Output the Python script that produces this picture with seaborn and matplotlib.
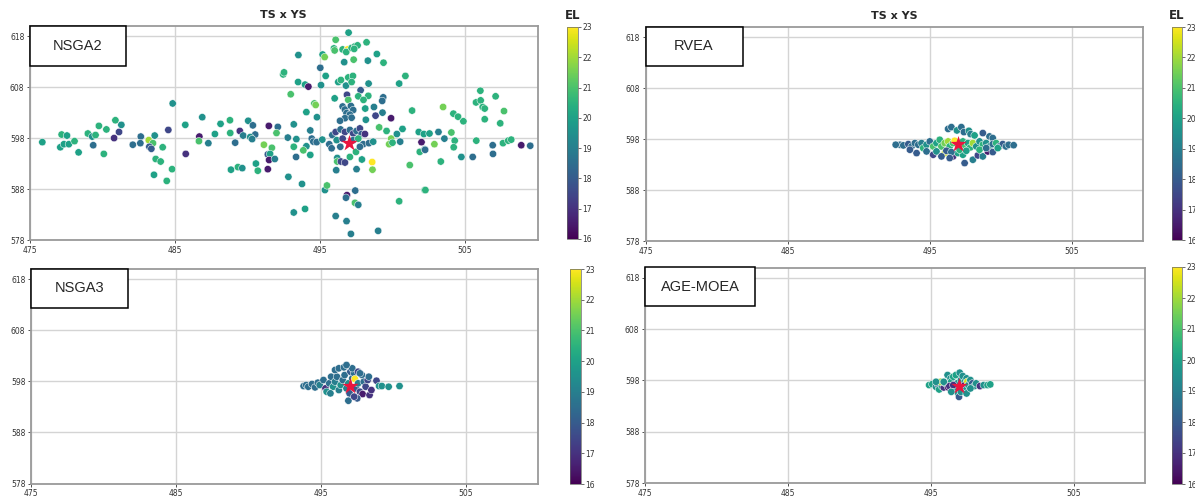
import matplotlib
matplotlib.use("Agg")
import matplotlib.pyplot as plt
import matplotlib as mpl
from matplotlib.patches import Rectangle
import numpy as np
import pandas as pd
import seaborn as sns

# ---------------- data ----------------
x_ticks = [475, 485, 495, 505]
y_ticks = [578, 588, 598, 608, 618]
el_ticks = [16, 17, 18, 19, 20, 21, 22, 23]
star_ts = [497.0]
star_ys = [597.0]

nsga2_ts = [475.85, 477.18, 477.55, 477.09, 477.34, 477.68, 478.07, 478.35, 478.99, 479.29,
            479.52, 479.75, 480.27, 479.36, 480.09, 480.89, 481.30, 481.14, 480.80, 482.09,
            482.64, 482.61, 483.19, 483.48, 483.23, 483.37, 483.60, 483.67, 484.01, 483.55,
            484.15,
            484.80, 484.43, 484.84, 484.54, 485.71, 485.74, 486.88, 486.68, 486.65, 487.30,
            487.75, 488.14, 488.79, 488.81, 489.47, 489.15, 489.70, 490.05, 490.37, 490.53,
            490.19, 490.32, 488.86, 489.34, 489.64, 490.58, 490.71, 491.47, 492.09, 492.00,
            491.13, 491.68, 491.40, 491.56, 491.49, 491.88, 491.40, 492.46, 492.52, 492.98,
            492.78, 493.19, 493.19, 492.82, 493.19,
            496.97, 496.08, 495.96, 496.01, 496.56, 496.90, 496.81, 497.18, 497.41, 497.59,
            497.36, 498.21, 493.51, 495.18, 495.32, 497.32, 496.67, 498.30, 498.92, 499.38,
            495.02, 495.39, 493.49, 493.97, 494.20, 495.07, 496.26, 496.44, 496.95, 497.27,
            496.79, 497.18, 498.35, 497.80, 496.01, 496.86, 497.64, 498.33, 496.95, 498.00,
            499.36, 499.29, 500.46, 500.89, 501.35, 494.61, 494.70, 494.06, 494.79, 494.33,
            496.56, 496.72, 496.83, 497.13, 497.29, 497.06, 496.72, 497.18, 496.38, 498.12,
            498.16, 498.83, 498.72, 499.90, 499.31, 499.08, 499.59, 499.91, 500.30, 500.69,
            500.53, 499.77, 500.00, 501.81, 502.16, 502.00, 501.88, 502.22, 501.19, 502.22,
            500.46, 498.60, 498.62, 497.52, 497.89, 497.06, 497.48, 496.19, 496.19, 496.44,
            496.72, 496.12, 494.43, 494.54, 494.77, 495.16, 495.64, 495.85, 496.08, 496.42,
            496.72, 497.06, 497.29, 497.52, 497.75, 497.87, 498.10, 496.15, 496.56, 497.29,
            497.64, 497.98, 498.37, 498.67, 497.75, 496.40, 495.80, 494.06, 493.85, 494.33,
            493.35, 493.76, 495.34, 495.48, 493.97, 496.86, 496.79, 497.43, 497.41, 497.64,
            496.08, 496.83, 497.13, 499.01, 493.37,
            506.06, 507.11, 505.76, 506.08, 506.22, 506.36, 507.69, 506.36, 507.43, 503.49,
            504.20, 504.52, 504.89, 504.06, 503.17, 502.55, 503.58, 504.29, 504.22, 502.89,
            505.78, 506.91, 506.93, 507.62, 507.98, 508.19, 508.88, 509.50, 504.75, 505.53,
            503.33, 502.27, 502.25]
nsga2_ys = [597.2, 598.7, 598.5, 596.2, 596.8, 596.8, 597.4, 595.2, 598.9, 598.3,
            598.6, 600.4, 599.7, 596.6, 594.9, 601.5, 600.6, 599.2, 598.0, 596.7,
            598.3, 597.0, 597.6, 597.0, 596.3, 595.9, 598.5, 593.9, 593.4, 590.8,
            596.2,
            591.9, 589.6, 604.8, 599.6, 600.6, 594.9, 602.1, 598.3, 597.4, 597.0,
            598.8, 600.8, 601.5, 599.0, 599.4, 597.1, 598.5, 601.4, 600.5, 598.7,
            598.2, 597.8, 591.8, 592.3, 592.1, 593.0, 591.6, 600.4, 600.2, 599.0,
            596.7, 596.1, 594.8, 594.9, 593.7, 593.9, 591.9, 610.5, 610.9, 606.6,
            598.1, 600.7, 596.3, 590.4, 583.4,
            618.7, 617.3, 615.6, 615.2, 615.4, 615.4, 614.9, 615.7, 616.0, 616.2,
            615.5, 616.8, 614.3, 614.4, 613.9, 613.4, 612.9, 613.2, 614.5, 612.8,
            611.8, 610.2, 609.0, 608.5, 608.1, 608.4, 609.0, 609.4, 609.9, 610.2,
            608.3, 609.0, 608.7, 607.4, 605.8, 606.5, 606.2, 606.3, 605.5, 605.5,
            606.0, 605.3, 608.7, 610.2, 603.4, 604.8, 604.5, 603.1, 602.1, 599.5,
            604.2, 603.6, 602.9, 604.3, 603.5, 602.6, 601.9, 602.0, 601.4, 603.8,
            601.6, 602.4, 604.1, 601.9, 603.0, 600.1, 599.4, 597.9, 598.8, 599.8,
            597.3, 596.8, 597.1, 599.2, 598.8, 597.2, 595.3, 595.8, 592.7, 587.8,
            585.6, 593.3, 591.8, 591.9, 593.8, 594.3, 595.3, 594.1, 593.4, 593.4,
            593.2, 591.7, 597.9, 597.3, 597.2, 597.7, 596.8, 598.6, 599.2, 599.7,
            599.2, 599.6, 598.9, 599.4, 599.9, 598.8, 598.8, 597.6, 597.9, 597.6,
            597.9, 596.8, 597.0, 597.3, 596.3, 596.3, 596.0, 596.4, 595.6, 594.7,
            594.3, 589.0, 587.8, 588.7, 584.1, 586.8, 586.3, 587.7, 585.3, 584.9,
            582.7, 581.7, 579.2, 579.8, 597.8,
            607.3, 606.2, 605.0, 605.4, 604.1, 603.8, 603.3, 601.7, 600.9, 604.1,
            602.8, 602.2, 601.3, 599.1, 599.2, 598.9, 597.9, 597.5, 596.2, 596.8,
            597.5, 596.6, 594.9, 597.0, 597.5, 597.7, 596.6, 596.5, 594.3, 594.3,
            593.4, 587.8, 595.7]
nsga2_el = [20, 20.5, 20, 20, 20, 20, 20.5, 20, 20.5, 19.5,
            20.5, 20.5, 20.5, 18.5, 20.5, 20.5, 19.5, 17.5, 17, 18.5,
            18.5, 18.5, 22, 21, 18, 18, 19.5, 20.5, 20.5, 20,
            20.5,
            20.5, 20.5, 19.5, 17.5, 20, 17, 19.5, 16.5, 21, 19,
            20, 20, 20.5, 20.5, 17, 18.5, 19, 19.5, 18.5, 18.5,
            19.5, 19, 20, 20.5, 19.5, 20, 20.5, 16.5, 18.5, 21,
            21.5, 21, 18, 20, 16.5, 19, 16.5, 20.5, 20.5, 21,
            19, 19.5, 20.5, 19.5, 19.5,
            20, 21, 20.5, 21, 20.5, 23, 20.5, 20.5, 20.5, 20.5,
            20.5, 20.5, 19.5, 20, 21.5, 21, 19.5, 19.5, 20, 20.5,
            18.5, 20, 20, 20, 16.5, 19.5, 20, 20.5, 20.5, 20.5,
            19.5, 20.5, 19.5, 18, 20, 17.5, 20.5, 20.5, 21, 20.5,
            18.5, 18.5, 20, 20.5, 20.5, 21, 21.5, 20, 19.5, 19,
            18.5, 18.5, 18.5, 18.5, 18.5, 18.5, 18.5, 18.5, 18.5, 20,
            19.5, 17.5, 19, 16.5, 19, 21, 20.5, 21.5, 19.5, 20,
            19, 21.5, 20.5, 20, 20, 16.5, 20.5, 19, 21, 20.5,
            20.5, 23, 21.5, 19, 20, 20.5, 20.5, 19.5, 21, 17.5,
            17.5, 19, 18.5, 18.5, 18.5, 19.5, 18.5, 18.5, 17.5, 18.5,
            17.5, 18.5, 17.5, 18.5, 17.5, 18, 17, 19.5, 17.5, 18.5,
            20.5, 18.5, 18.5, 19.5, 18.5, 18.5, 18.5, 19.5, 21, 20,
            18.5, 19.5, 19.5, 21, 20, 16.5, 18.5, 18.5, 21, 19,
            19, 19, 19, 19, 19.5,
            20.5, 20.5, 20.5, 20.5, 20.5, 20.5, 21, 20.5, 20.5, 21.5,
            20.5, 20.5, 20.5, 21, 19, 20, 19, 20.5, 20.5, 21.5,
            20.5, 18.5, 18.5, 20.5, 20.5, 20.5, 16.5, 18.5, 19.5, 18.5,
            20.5, 20.5, 18.5]

rvea_ts = [496.29, 496.52, 496.91, 497.22, 497.40, 497.75, 497.87, 498.15, 498.73, 499.20, 499.43,
           492.90, 493.14, 493.49, 493.72, 493.95, 494.19, 494.42, 494.54, 494.77, 495.00,
           495.24, 495.47, 495.70, 495.82, 496.05, 496.29, 496.40, 496.64, 496.75, 497.33,
           497.45, 497.68, 497.85, 498.03, 498.27, 498.50, 498.73, 498.97, 499.20, 499.43,
           499.67, 499.90, 500.13, 500.36, 500.55,
           493.60, 494.07, 494.77, 495.24, 495.47, 496.05, 496.17, 496.64, 496.98, 497.33,
           497.45, 498.03, 498.38, 498.73, 499.08, 499.43, 499.78, 495.82, 496.52, 497.10,
           496.40, 497.57, 498.50, 498.97, 500.90, 492.60]
rvea_ys = [600.0, 600.35, 599.7, 600.35, 599.37, 599.63, 598.98, 598.72, 599.18, 598.52, 598.2,
           596.89, 596.76, 597.02, 596.56, 597.21, 596.89, 597.21, 596.23, 596.89, 597.54,
           596.56, 597.21, 597.87, 596.56, 597.21, 597.54, 596.56, 597.21, 597.67, 597.54,
           596.56, 597.21, 596.36, 597.21, 596.56, 597.54, 596.89, 597.21, 596.56, 597.02,
           597.21, 596.56, 597.02, 596.56, 596.89,
           595.91, 595.25, 595.58, 594.93, 595.58, 595.25, 595.71, 594.6, 595.25, 594.93,
           593.29, 593.95, 594.8, 594.6, 595.58, 595.45, 596.23, 594.6, 595.45, 595.91,
           594.27, 595.71, 595.91, 596.23, 596.8, 596.9]
rvea_el = [18.5, 18.5, 19.5, 18.5, 18.5, 19.5, 19, 20, 18, 18.5, 18.5,
           18.5, 18.5, 18, 18.5, 18.5, 18.5, 19, 20.5, 19.5, 18.5,
           21, 20, 20.5, 21, 21.5, 22, 20.5, 21, 23, 20.5,
           21, 20, 20.5, 22, 19.5, 19.5, 20.5, 19.5, 19.5, 18.5,
           20.5, 18.5, 18, 18.5, 18.5,
           18, 18, 18.5, 17.5, 19.5, 22.5, 18, 17, 20, 20,
           18, 19, 17.5, 19, 16.5, 18, 20, 18, 18.5, 20.5,
           18, 20, 20.5, 18.5, 18.5, 18.5]

nsga3_ts = [493.82, 494.00, 494.14, 494.40, 494.61, 494.80, 494.93, 495.19, 495.33, 495.41,
            495.59, 495.72, 495.86, 495.99, 496.12, 496.25, 496.38, 496.52, 496.65, 496.78,
            496.91, 496.99, 497.05, 497.18, 497.31, 497.36, 497.44, 497.58, 497.71, 497.84,
            497.89, 497.97, 498.10, 498.24, 498.32, 498.37, 498.50, 496.91, 497.52, 497.31,
            495.99, 496.25, 496.60, 497.18, 496.78, 497.58, 497.71, 498.85, 499.03, 499.22,
            499.69, 500.44, 495.67]
nsga3_ys = [597.08, 597.28, 596.95, 597.48, 596.82, 597.74, 597.28, 598.26, 596.63, 595.97,
            597.61, 598.91, 596.95, 597.93, 598.91, 596.30, 597.28, 598.26, 599.24, 596.63,
            597.61, 595.65, 599.89, 598.59, 599.57, 598.46, 596.63, 597.61, 595.97, 599.24,
            595.51, 597.93, 596.95, 598.26, 598.91, 595.32, 596.30, 594.21, 594.67, 595.00,
            600.22, 600.55, 600.75, 600.55, 601.20, 599.89, 599.57, 598.13, 597.08, 597.08,
            596.95, 597.08, 595.65]
nsga3_el = [18.5, 18.5, 18.5, 18.5, 18.5, 18.5, 19, 18.5, 17, 19.5,
            18.5, 18.5, 19.5, 19, 18.5, 19, 19.5, 18.5, 18.5, 19,
            19.5, 18, 18, 18.5, 18.5, 23, 18, 19, 17.5, 18.5,
            16.5, 18.5, 17.5, 17.5, 18.5, 17, 17, 18.5, 18, 17.5,
            18.5, 18.5, 18.5, 18.5, 18.5, 17.5, 18.5, 17.5, 19.5, 19.5,
            19.5, 19.5, 19]

agemoea_ts = [494.89, 495.11, 495.37, 495.51, 495.59, 495.78, 495.91, 496.04, 496.18, 496.23,
              496.39, 496.44, 496.58, 496.66, 496.76, 496.84, 496.92, 497.03, 497.11, 497.19,
              497.24, 497.38, 497.38, 497.46, 497.51, 497.57, 497.64, 497.78, 497.91, 498.05,
              498.18, 498.45, 498.71, 498.98, 499.17, 495.70, 496.98, 496.31, 496.58, 495.37,
              495.91, 496.44, 497.11, 497.51, 497.78]
agemoea_ys = [597.08, 597.27, 596.75, 597.21, 596.23, 596.88, 596.62, 597.41, 599.04, 596.62,
              598.39, 597.73, 598.71, 596.23, 599.04, 597.41, 595.45, 599.50, 598.06, 596.75,
              598.84, 597.73, 597.08, 596.10, 598.39, 597.73, 597.08, 598.06, 597.41, 596.88,
              597.41, 596.88, 597.08, 597.08, 597.21, 597.73, 594.79, 596.88, 597.08, 597.73,
              597.73, 595.77, 595.77, 595.45, 596.43]
agemoea_el = [20, 20, 19.5, 18, 20, 19.5, 17, 19.5, 19.5, 16.5,
              19.5, 20, 20, 19.5, 20, 19.5, 19.5, 19.5, 19.5, 20,
              19.5, 19.5, 16.5, 19.5, 19.5, 22.5, 19.5, 19.5, 18, 19.5,
              19.5, 17, 19.5, 20, 20, 22, 18, 17, 17, 19.5,
              19.5, 19.5, 19.5, 19.5, 19.5]

# ---------------- figure ----------------
sns.set_style("whitegrid")
plt.rcParams['font.family'] = ['DejaVu Sans']

W, H = 1195, 498
fig = plt.figure(figsize=(W / 100, H / 100), dpi=100)


def frac(l, t, r, b):
    return [l / W, 1 - b / H, (r - l) / W, (b - t) / H]


panels = [
    ("NSGA2", nsga2_ts, nsga2_ys, nsga2_el, frac(30, 26, 537.5, 240), frac(567, 27, 577.5, 239), 96, 40, True),
    ("RVEA", rvea_ts, rvea_ys, rvea_el, frac(645.5, 27, 1143, 241), frac(1172, 27, 1182, 240), 97, 39, True),
    ("NSGA3", nsga3_ts, nsga3_ys, nsga3_el, frac(31, 269, 538, 483.5), frac(569.5, 269, 580.5, 484), 97, 39, False),
    ("AGE-MOEA", agemoea_ts, agemoea_ys, agemoea_el, frac(645, 267.5, 1145, 483), frac(1172, 267, 1182, 484), 110, 39, False),
]

norm = mpl.colors.Normalize(vmin=16, vmax=23)

for name, ts, ys, el, arect, crect, bw, bh, top in panels:
    ax = fig.add_axes(arect)
    df = pd.DataFrame({"TS": ts, "YS": ys, "EL": el})
    sns.scatterplot(data=df, x="TS", y="YS", hue="EL", palette="viridis", hue_norm=norm,
                    s=28, linewidth=0.35, edgecolor="white", legend=False, ax=ax, zorder=3)
    sns.scatterplot(x=star_ts, y=star_ys, marker="*", s=150, color="#e8153f",
                    linewidth=0, ax=ax, zorder=4)
    ax.set_xlim(475, 510)
    ax.set_ylim(578, 620)
    ax.set_xticks(x_ticks)
    ax.set_yticks(y_ticks)
    ax.set_xlabel("")
    ax.set_ylabel("")
    ax.tick_params(labelsize=5.5, colors="#333333", length=2.5, width=0.6,
                   bottom=True, left=True, pad=1.5)
    ax.grid(True, color="#d4d4d4", linewidth=1.0)
    ax.set_axisbelow(True)
    for sp in ax.spines.values():
        sp.set_color("#9a9a9a")
        sp.set_linewidth(1.3)

    # label box
    pw = arect[2] * W
    ph = arect[3] * H
    wf, hf = bw / pw, bh / ph
    ax.add_patch(Rectangle((0, 1 - hf), wf, hf, transform=ax.transAxes, facecolor="white",
                           edgecolor="black", linewidth=1.1, zorder=10, clip_on=False))
    ax.text(wf / 2, 1 - hf / 2, name, transform=ax.transAxes, ha="center", va="center",
            fontsize=10.5, family="Liberation Sans", zorder=11)

    cax = fig.add_axes(crect)
    sm = mpl.cm.ScalarMappable(norm=norm, cmap="viridis")
    cb = fig.colorbar(sm, cax=cax)
    cb.set_ticks(el_ticks)
    cb.ax.tick_params(labelsize=5.5, length=2, width=0.5, colors="#333333", pad=1.5)
    cb.outline.set_linewidth(0.5)
    cb.outline.set_edgecolor("#666666")

    if top:
        ax.set_title("TS x YS", fontsize=8, fontweight="bold", pad=6)
        cax.set_title("EL", fontsize=8.5, fontweight="bold", pad=6)

fig.savefig("out.png", dpi=100)
